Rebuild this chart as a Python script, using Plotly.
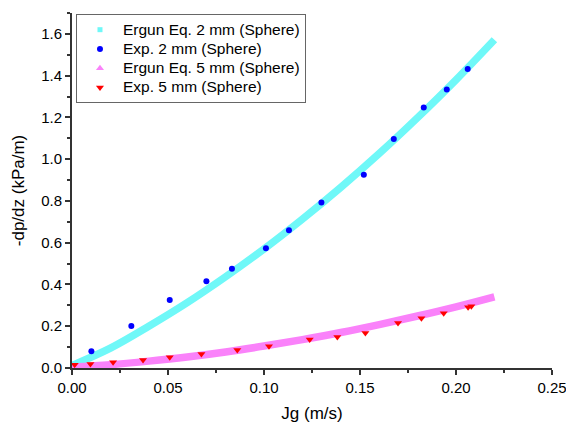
import plotly.graph_objects as go

# Ergun equation curves
ergun_x = [0.0, 0.02, 0.04, 0.06, 0.08, 0.10, 0.12, 0.14, 0.16, 0.18, 0.20, 0.22]
ergun_2mm = [0.012, 0.095, 0.2, 0.313, 0.437, 0.57, 0.713, 0.865, 1.027, 1.199, 1.38, 1.572]
ergun_5mm = [0.005, 0.016, 0.033, 0.053, 0.077, 0.105, 0.136, 0.170, 0.208, 0.249, 0.293, 0.341]

# Experimental points
exp2_x = [0.0101, 0.0309, 0.0509, 0.070, 0.0833, 0.101, 0.113, 0.1299, 0.152, 0.1676, 0.1832, 0.1952, 0.2061]
exp2_y = [0.080, 0.2016, 0.326, 0.416, 0.475, 0.574, 0.66, 0.792, 0.925, 1.097, 1.248, 1.334, 1.432]

exp5_x = [0.0014, 0.0096, 0.0214, 0.037, 0.0509, 0.0674, 0.0861, 0.1026, 0.1238, 0.1382,
          0.1528, 0.1698, 0.182, 0.1936, 0.2063, 0.208]
exp5_y = [0.016, 0.019, 0.027, 0.038, 0.051, 0.067, 0.086, 0.104, 0.137, 0.148,
          0.168, 0.216, 0.238, 0.262, 0.291, 0.296]

names = ["Ergun Eq. 2 mm (Sphere)", "Exp. 2 mm (Sphere)",
         "Ergun Eq. 5 mm (Sphere)", "Exp. 5 mm (Sphere)"]

cyan = "#6ff8f8"
magenta = "#fa82fa"
FONT = "Liberation Sans, Arial, sans-serif"


def lg(name):
    # larger legend text while keeping the tighter row spacing of the reference
    return '<span style="font-size:15.5px">' + name + '</span>'


fig = go.Figure()
fig.add_trace(go.Scatter(x=ergun_x, y=ergun_2mm, mode="lines", line=dict(color=cyan, width=7.5, shape="spline"),
                         showlegend=False, hoverinfo="skip"))
fig.add_trace(go.Scatter(x=ergun_x, y=ergun_5mm, mode="lines", line=dict(color=magenta, width=7.5, shape="spline"),
                         showlegend=False, hoverinfo="skip"))
fig.add_trace(go.Scatter(x=[None], y=[None], mode="markers", name=lg(names[0]),
                         marker=dict(symbol="square", color=cyan, size=5)))
fig.add_trace(go.Scatter(x=exp2_x, y=exp2_y, mode="markers", name=lg(names[1]),
                         marker=dict(symbol="circle", color="#0000ff", size=6)))
fig.add_trace(go.Scatter(x=[None], y=[None], mode="markers", name=lg(names[2]),
                         marker=dict(symbol="triangle-up", color=magenta, size=7)))
fig.add_trace(go.Scatter(x=exp5_x, y=exp5_y, mode="markers", name=lg(names[3]),
                         marker=dict(symbol="triangle-down", color="#ff0000", size=7)))

# the page body has an 8px default margin, so the figure is made 8px smaller
# and the margins are shifted so the plot area lands where the reference has it
axis_font = dict(family=FONT, size=15, color="black")
fig.update_layout(
    width=566, height=417,
    margin=dict(l=64, r=22, t=5, b=57),
    paper_bgcolor="white", plot_bgcolor="white",
    font=dict(family=FONT, size=15, color="black"),
    legend=dict(x=0.0083, y=0.997, xanchor="left", yanchor="top",
                bordercolor="#666666", borderwidth=1, bgcolor="white",
                font=dict(size=12.5), tracegroupgap=0, itemwidth=36),
    xaxis=dict(range=[0, 0.25], tick0=0, dtick=0.05, tickformat=".2f",
               showline=True, linecolor="#333333", linewidth=2, mirror=False,
               ticks="outside", ticklen=5, tickwidth=1.5, tickcolor="#333333",
               minor=dict(dtick=0.025, ticks="outside", ticklen=3, tickcolor="#333333", tickwidth=1.5),
               showgrid=False, zeroline=False, tickfont=axis_font, automargin=False,
               title=dict(text="Jg (m/s)", font=dict(size=17), standoff=12)),
    yaxis=dict(range=[0, 1.7], tick0=0, dtick=0.2, tickformat=".1f",
               showline=True, linecolor="#333333", linewidth=2, mirror=False,
               ticks="outside", ticklen=5, tickwidth=1.5, tickcolor="#333333",
               minor=dict(dtick=0.1, ticks="outside", ticklen=3, tickcolor="#333333", tickwidth=1.5),
               showgrid=False, zeroline=False, tickfont=axis_font, automargin=False,
               title=dict(text="-dp/dz (kPa/m)", font=dict(size=17), standoff=12)),
)

fig.write_html("out.html")
